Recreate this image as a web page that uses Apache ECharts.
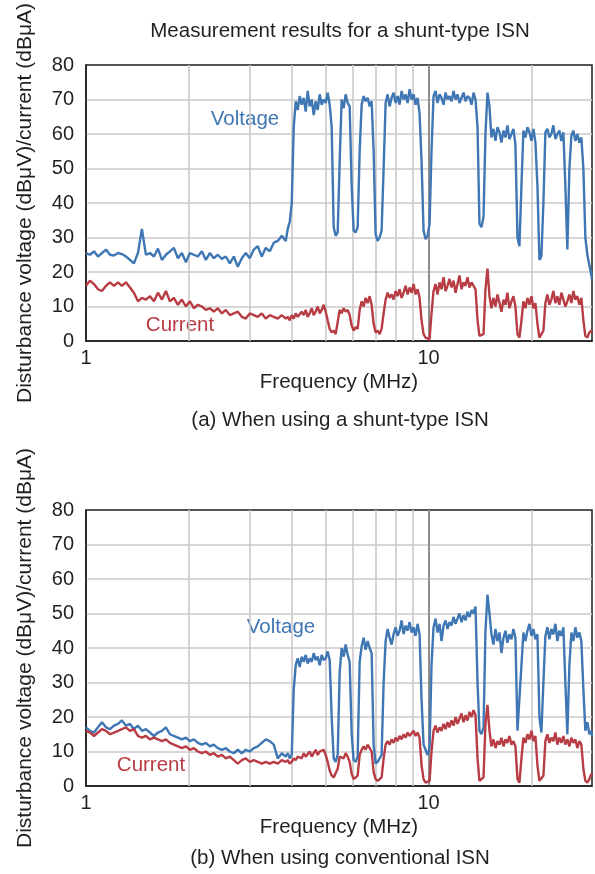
<!DOCTYPE html>
<html>
<head>
<meta charset="utf-8">
<title>Measurement results for a shunt-type ISN</title>
<script src="https://cdn.jsdelivr.net/npm/echarts@6/dist/echarts.min.js"></script>
<style>
  html, body { margin: 0; padding: 0; background: #fff; }
  #chart { width: 595px; height: 874px; }
</style>
</head>
<body>
<div id="chart"></div>
<script>
// frequency points (MHz), shared by all four traces
const freqMHz = [
  1.000, 1.027, 1.055, 1.084, 1.113,
  1.144, 1.175, 1.207, 1.240, 1.273,
  1.308, 1.344, 1.380, 1.418, 1.456,
  1.496, 1.537, 1.579, 1.622, 1.666,
  1.711, 1.758, 1.805, 1.855, 1.905,
  1.957, 2.010, 2.065, 2.121, 2.179,
  2.238, 2.299, 2.361, 2.426, 2.492,
  2.560, 2.629, 2.701, 2.774, 2.850,
  2.927, 3.007, 3.089, 3.173, 3.259,
  3.348, 3.439, 3.533, 3.629, 3.728,
  3.829,
  3.881, 3.933, 3.987, 4.040, 4.095,
  4.150, 4.206, 4.263, 4.321, 4.379,
  4.438, 4.498, 4.559, 4.621, 4.683,
  4.747, 4.811, 4.876, 4.942, 5.009,
  5.076, 5.145, 5.214, 5.285, 5.356,
  5.429, 5.502, 5.576, 5.652, 5.728,
  5.806, 5.884, 5.964, 6.044, 6.126,
  6.209, 6.293, 6.378, 6.464, 6.551,
  6.640, 6.730, 6.821, 6.913, 7.006,
  7.101, 7.197, 7.294, 7.393, 7.493,
  7.594, 7.697, 7.801, 7.906, 8.013,
  8.121, 8.231, 8.342, 8.455, 8.569,
  8.685, 8.803, 8.922, 9.042, 9.164,
  9.288, 9.414, 9.541, 9.670, 9.801,
  9.933, 10.07, 10.20, 10.34, 10.48,
  10.62, 10.77, 10.91, 11.06, 11.21,
  11.36, 11.51, 11.67, 11.83, 11.99,
  12.15, 12.31, 12.48, 12.65, 12.82,
  12.99, 13.17, 13.35, 13.53, 13.71,
  13.90, 14.08, 14.27, 14.47, 14.66,
  14.86, 15.06, 15.26, 15.47, 15.68,
  15.89, 16.11, 16.32, 16.55, 16.77,
  16.99, 17.22, 17.46, 17.69, 17.93,
  18.18, 18.42, 18.67, 18.92, 19.18,
  19.44, 19.70, 19.97, 20.24, 20.51,
  20.79, 21.07, 21.35, 21.64, 21.93,
  22.23, 22.53, 22.83, 23.14, 23.46,
  23.77, 24.09, 24.42, 24.75, 25.08,
  25.42, 25.77, 26.12, 26.47, 26.83,
  27.19, 27.56, 27.93, 28.31, 28.69,
  29.08, 29.47, 29.87, 30.0
]

// (a) shunt-type ISN
const voltageA = [
  25.5, 25.0, 26.0, 24.5, 25.5,
  26.5, 25.0, 24.8, 25.5, 25.2,
  24.5, 23.5, 22.5, 25.5, 32.5,
  25.0, 25.5, 24.5, 26.8, 23.5,
  25.0, 26.0, 27.0, 24.0, 25.5,
  22.8, 25.5, 25.0, 24.5, 26.0,
  23.5, 25.5, 24.0, 25.0, 23.8,
  24.5, 22.5, 24.5, 21.5, 24.0,
  25.5, 24.0, 26.5, 27.5, 24.5,
  27.0, 26.0, 28.5, 29.0, 30.5,
  29.0,
  32.5, 34.5, 40.0, 62.0, 69.5,
  67.0, 71.0, 68.5, 70.5, 66.5,
  72.5, 68.0, 70.0, 65.5, 69.5,
  67.0, 71.5, 68.5, 70.0, 69.0,
  72.0, 68.5, 62.0, 33.0, 30.5,
  31.5, 52.0, 70.0, 67.5, 71.5,
  69.0, 68.0, 45.0, 32.0, 31.5,
  33.0, 55.0, 68.5, 71.0, 69.5,
  70.5, 68.0, 69.5, 55.0, 31.0,
  29.0, 30.0, 32.0, 50.0, 69.0,
  71.5, 68.0, 70.5, 72.0, 69.0,
  71.0, 68.5, 72.5, 70.0, 71.5,
  69.0, 73.0, 70.0, 71.5, 68.5,
  70.5, 66.0, 52.0, 32.0, 29.5,
  30.5, 34.0, 55.0, 71.0, 72.5,
  69.0, 71.5, 70.5, 68.5, 72.0,
  70.0, 71.0, 69.5, 72.5, 70.0,
  71.5, 69.0, 70.5, 72.0, 69.5,
  71.0, 70.5, 68.5, 72.0, 70.0,
  62.0, 34.0, 33.0, 36.0, 60.0,
  72.0, 68.0, 59.0, 61.5, 58.0,
  62.0, 60.5, 57.5, 61.0, 59.0,
  62.5, 58.5, 60.0, 61.5, 57.0,
  30.0, 27.5, 45.0, 61.0, 59.0,
  62.0, 60.5, 58.0, 61.5, 57.5,
  45.0, 23.5, 24.5, 40.0, 60.5,
  61.5, 59.0, 60.0, 62.5, 58.5,
  60.0, 61.0, 58.0, 60.5, 45.0,
  26.5, 50.0, 59.5, 61.0, 58.0,
  60.0, 57.5, 59.0, 50.0, 30.0,
  25.0, 22.0, 19.0, 18.0
]

const currentA = [
  16.0, 17.5, 16.5, 15.0, 14.5,
  16.0, 17.0, 16.0, 17.0, 16.0,
  17.0, 15.5, 14.0, 11.5, 12.5,
  12.0, 13.0, 11.5, 14.0, 12.0,
  14.5, 11.5, 12.5, 10.5, 12.0,
  10.0, 11.5, 9.5, 10.5, 10.0,
  9.0, 9.5, 8.5, 9.5, 8.0,
  9.0, 7.5, 8.0, 8.5, 7.0,
  6.5, 8.0, 7.5, 7.0, 8.0,
  6.5, 7.5, 7.0, 6.5, 7.5,
  6.5,
  7.0, 6.0, 7.5, 6.5, 8.0,
  7.0, 6.5, 8.5, 7.5, 9.0,
  7.0, 8.0, 9.5, 7.5, 8.5,
  10.0, 8.0, 9.0, 10.5, 8.5,
  6.0, 3.5, 2.5, 3.0, 2.0,
  5.5, 9.0, 8.0, 9.5, 8.5,
  9.0, 7.5, 4.5, 3.0, 4.0,
  3.5, 9.0, 11.5, 10.0, 12.5,
  11.0, 13.0, 10.5, 5.0, 2.5,
  3.0, 2.0, 3.5, 8.0, 12.0,
  14.0, 12.5, 13.5, 12.0, 14.5,
  13.0, 15.0, 12.5, 14.0, 16.0,
  13.5, 15.5, 14.0, 16.5, 13.5,
  15.0, 12.5, 6.0, 2.0, 1.0,
  1.5, 0.5, 8.0, 14.5, 16.5,
  13.5, 17.0, 15.0, 18.5, 14.5,
  16.0, 18.0, 15.5, 17.5, 14.0,
  16.5, 19.0, 15.0, 17.0, 16.0,
  18.5, 15.5, 17.0, 16.0, 15.0,
  6.0, 1.5, 1.0, 2.0, 15.0,
  21.0, 13.0, 9.5, 12.5, 10.0,
  13.5, 11.0, 8.5, 12.0, 10.5,
  14.0, 9.5, 11.5, 13.0, 10.0,
  2.0, 1.0, 6.0, 11.5, 9.5,
  12.5, 10.5, 13.0, 9.5, 11.0,
  5.0, 1.0, 1.5, 3.0, 11.0,
  13.5, 10.5, 12.0, 14.5, 11.0,
  13.0, 10.5, 14.0, 12.0, 10.0,
  11.5, 13.5, 11.0, 14.5, 12.0,
  13.0, 10.5, 12.5, 6.0, 1.5,
  1.0, 2.5, 3.0, 2.5
]

// (b) conventional ISN
const voltageB = [
  17.0, 16.0, 15.5, 17.0, 18.5,
  17.0, 16.5, 17.5, 18.0, 19.0,
  17.5, 18.0, 16.5, 17.5, 16.0,
  16.5, 15.5, 14.5, 15.5, 16.0,
  17.0, 15.0, 14.5, 14.0, 13.5,
  14.0, 13.0, 13.5, 12.5, 12.0,
  12.5, 11.5, 12.0, 11.0, 10.5,
  11.0, 10.0, 9.5, 10.5, 9.5,
  10.5, 10.0, 11.0, 11.5, 12.5,
  13.5, 13.0, 12.0, 8.0, 9.5,
  8.5,
  9.5, 8.0, 9.0, 28.0, 35.0,
  37.0, 34.5, 37.5, 36.0, 38.0,
  35.5, 37.0, 36.0, 38.5, 36.5,
  37.5, 35.0, 38.0, 36.5, 37.0,
  39.0, 36.5, 20.0, 8.0, 7.0,
  9.0, 33.0, 40.0, 37.5, 41.0,
  38.0, 36.0, 15.0, 7.5, 7.0,
  8.5, 36.0, 40.5, 43.0, 39.5,
  42.0, 40.0, 38.5, 12.0, 6.5,
  7.0, 8.0, 9.0, 30.0, 42.0,
  45.5, 43.0, 41.0, 44.0, 46.0,
  43.5, 45.0, 48.0, 44.0, 46.5,
  45.0, 47.5, 44.5, 46.0, 43.5,
  47.0, 44.0, 25.0, 12.0, 10.5,
  9.0, 11.0, 35.0, 46.0, 48.5,
  44.5, 47.0, 42.0, 46.5, 48.0,
  45.5, 47.5, 46.5, 49.0, 47.0,
  48.5, 50.0, 47.5, 49.5, 48.0,
  50.5, 49.0, 51.0, 50.0, 52.0,
  30.0, 16.0, 15.0, 17.0, 45.0,
  55.5, 50.0, 44.0, 41.0, 45.5,
  42.0, 44.5, 38.5, 43.0, 45.0,
  41.5, 44.0, 42.5, 45.5, 43.0,
  16.0, 15.5, 35.0, 44.5, 42.0,
  45.0, 47.0, 43.5, 45.5, 42.5,
  44.0, 20.0, 15.5, 30.0, 43.5,
  46.0, 42.5, 45.5, 44.0, 47.0,
  42.0, 45.0, 43.5, 46.0, 30.0,
  15.0, 35.0, 44.5, 42.0, 46.0,
  43.0, 44.5, 42.0, 28.0, 16.0,
  18.5, 15.0, 16.0, 14.5
]

const currentB = [
  16.0, 15.5, 14.5, 15.5, 16.5,
  16.0, 15.0, 15.5, 16.0, 16.5,
  17.0, 16.0, 16.5, 14.5, 14.0,
  14.5, 13.5, 14.0, 13.5, 13.0,
  13.5, 12.5, 12.0, 11.5, 11.0,
  11.5, 10.5, 11.0, 10.0, 9.5,
  10.0, 9.0, 9.5, 8.5, 9.0,
  8.0, 8.5, 7.5, 6.5, 7.5,
  8.0, 7.0, 7.5, 7.0, 6.5,
  7.0, 6.5, 7.0, 6.5, 7.5,
  7.0,
  7.5, 6.5, 7.0, 8.0, 7.5,
  8.5, 9.0, 8.0, 9.5, 8.5,
  9.0, 10.0, 8.5, 9.5, 10.5,
  9.0, 10.0, 9.5, 10.5, 9.0,
  7.0, 4.5, 3.0, 2.5, 3.0,
  5.0, 8.5, 9.0, 8.0, 9.5,
  8.5, 7.0, 3.5, 2.0, 2.5,
  3.0, 9.0, 10.5, 11.5, 10.5,
  12.0, 11.0, 10.0, 4.0, 2.0,
  1.5, 2.0, 2.5, 8.0, 12.0,
  13.0, 12.0, 13.5, 12.5, 14.0,
  13.0, 14.5, 13.5, 15.0, 14.0,
  15.5, 14.5, 15.0, 16.0, 14.5,
  15.5, 14.0, 6.0, 2.0, 1.0,
  0.5, 1.5, 10.0, 16.0, 17.5,
  15.5, 17.0, 16.0, 18.0, 16.5,
  18.5, 17.0, 19.0, 17.5, 20.0,
  18.0, 19.5, 21.0, 18.5, 20.5,
  19.0, 21.5, 20.0, 22.0, 20.5,
  8.0, 1.5, 1.0, 2.5, 18.0,
  23.5, 16.0, 11.5, 13.5, 11.0,
  13.0, 12.0, 14.0, 11.5, 13.5,
  12.5, 14.5, 12.0, 13.0, 11.5,
  2.0, 1.0, 8.0, 14.0, 12.5,
  15.0, 13.5, 16.0, 13.0, 14.5,
  6.0, 1.5, 1.0, 3.0, 13.0,
  15.0, 12.5, 14.0, 13.0, 15.5,
  12.0, 14.0, 12.5, 14.5, 12.0,
  13.5, 11.5, 14.0, 12.5, 13.5,
  11.0, 13.0, 12.0, 5.0, 1.5,
  1.0, 2.0, 3.5, 3.0
]

// light vertical grid lines inside each decade
const minorFreqs = [2, 3, 4, 5, 6, 7, 8, 9, 20]
const xTickLabels = [1, 10]

const textColor = '#231f20'
const blue = '#3f77b4'
const red = '#b83c44'
const font = '"Liberation Sans", Arial, sans-serif'
const gridTops = [65, 510]

const dom = document.getElementById('chart')
const myChart = echarts.init(dom, null, { renderer: 'canvas' })

const xLabel = (v) => {
  const hit = xTickLabels.find(t => Math.abs(t - v) < 1e-6 * t)
  return hit ? String(hit) : ''
}

const makeX = (i) => ({
  type: 'log', logBase: 10, min: 1, max: 30, gridIndex: i,
  name: 'Frequency (MHz)', nameLocation: 'middle', nameGap: 31,
  nameTextStyle: { fontSize: 20.5, color: textColor, fontFamily: font },
  axisLine: { show: true, lineStyle: { color: '#1e1e1e', width: 1.5 } },
  axisTick: { show: false },
  axisLabel: { fontSize: 20, color: textColor, fontFamily: font, margin: 7, formatter: xLabel },
  splitLine: { show: true, showMinLine: false, showMaxLine: false, lineStyle: { color: '#8e8e8e', width: 2 } }
})

const makeY = (i) => ({
  type: 'value', min: 0, max: 80, interval: 10, gridIndex: i,
  name: 'Disturbance voltage (dBμV)/current (dBμA)', nameLocation: 'middle', nameGap: 50,
  nameTextStyle: { fontSize: 21, color: textColor, fontFamily: font },
  axisLine: { show: true, lineStyle: { color: '#1e1e1e', width: 1.5 } },
  axisTick: { show: false },
  axisLabel: { fontSize: 20, color: textColor, fontFamily: font, margin: 12 },
  splitLine: { show: true, showMinLine: false, showMaxLine: false, lineStyle: { color: '#cbc8c8', width: 1.6 } }
})

const trace = (values, color, i) => ({
  type: 'line', xAxisIndex: i, yAxisIndex: i,
  data: freqMHz.map((f, k) => [f, values[k]]),
  symbol: 'none', showSymbol: false, silent: true, animation: false, z: 3,
  lineStyle: { color: color, width: 2.4 }
})

// empty series that only carries the minor grid lines
const minorLines = (i) => ({
  type: 'line', xAxisIndex: i, yAxisIndex: i, data: [], silent: true, animation: false,
  markLine: {
    z: 1, silent: true, symbol: 'none', animation: false, label: { show: false },
    lineStyle: { color: '#cbc8c8', width: 1.6, type: 'solid' },
    data: minorFreqs.map(v => ({ xAxis: v }))
  }
})

const txt = (text, x, y, color) => ({
  type: 'text', x: x, y: y, silent: true,
  style: { text: text, fill: color || textColor, font: '20.5px ' + font, align: 'center', verticalAlign: 'middle' }
})

const option = {
  animation: false,
  backgroundColor: '#fff',
  grid: gridTops.map(t => ({
    left: 86, right: 2, top: t, height: 276,
    show: true, borderColor: '#1e1e1e', borderWidth: 1.5
  })),
  xAxis: [makeX(0), makeX(1)],
  yAxis: [makeY(0), makeY(1)],
  series: [
    minorLines(0), minorLines(1),
    trace(voltageA, blue, 0), trace(currentA, red, 0),
    trace(voltageB, blue, 1), trace(currentB, red, 1)
  ],
  graphic: [
    txt('Measurement results for a shunt-type ISN', 340, 31),
    txt('(a) When using a shunt-type ISN', 340, 420),
    txt('(b) When using conventional ISN', 340, 858),
    txt('Voltage', 245, 119, blue),
    txt('Current', 180, 325, red),
    txt('Voltage', 281, 627, blue),
    txt('Current', 151, 765, red)
  ]
}

myChart.setOption(option)
</script>
</body>
</html>
